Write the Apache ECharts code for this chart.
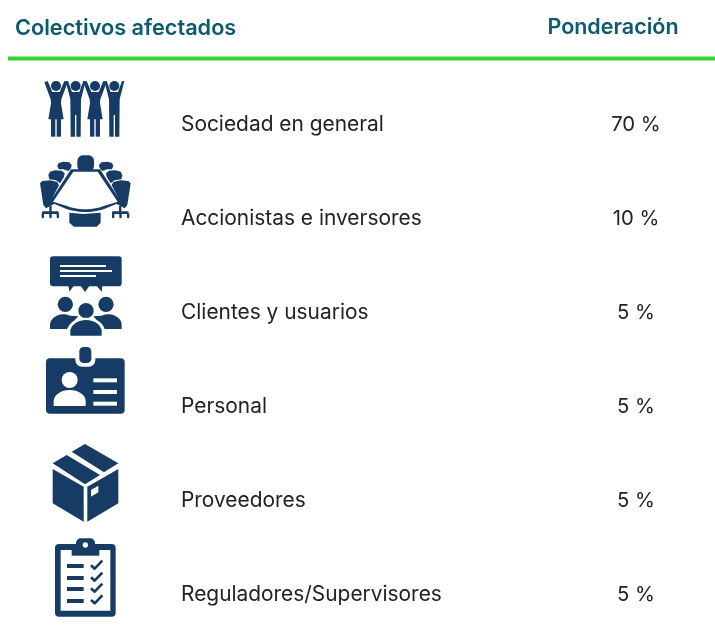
<!DOCTYPE html>
<html><head><meta charset="utf-8">
<style>html,body{margin:0;padding:0;background:#fff}#c{width:715px;height:630px}</style>
<script src="https://cdn.jsdelivr.net/npm/echarts@6/dist/echarts.min.js"></script>
</head><body><div id="c"></div>
<script>
const headers = ['Colectivos afectados', 'Ponderación'];
const categories = ['Sociedad en general','Accionistas e inversores','Clientes y usuarios','Personal','Proveedores','Reguladores/Supervisores'];
const weights = [70, 10, 5, 5, 5, 5];

const NAVY = '#163c66', WHITE = '#fff', FONT = 'Inter, "Noto Sans", sans-serif';
const P = (pts, fill = NAVY) => ({type:'polygon', shape:{points:pts}, style:{fill}});
const C = (cx, cy, r, fill = NAVY) => ({type:'circle', shape:{cx, cy, r}, style:{fill}});
const R = (x, y, width, height, r = 0, fill = NAVY) => ({type:'rect', shape:{x, y, width, height, r}, style:{fill}});
const PL = (pts, w, stroke = NAVY) => ({type:'polyline', shape:{points:pts}, style:{fill:null, stroke, lineWidth:w, lineJoin:'round'}});
const arc = (cx, cy, rx, ry, a0, a1, n = 14) => Array.from({length:n + 1}, (_, i) => {
  const a = (a0 + (a1 - a0) * i / n) * Math.PI / 180;
  return [cx + rx * Math.cos(a), cy + ry * Math.sin(a)];
});

function woman(c) { return [
  C(c, 258, 15),
  P([[c-35,247],[c-25,243],[c-11,276],[c+11,276],[c+25,243],[c+35,247],[c+16,298],[c+15,310],[c+23,358],[c-23,358],[c-15,310],[c-16,298]]),
  R(c-15, 355, 13, 55), R(c+2, 355, 13, 55)
];}
function man(c) { return [
  C(c, 258, 15),
  P([[c-30,243],[c-23,243],[c-11,276],[c+11,276],[c+23,243],[c+30,243],[c+16,298],[c+15,410],[c+2,410],[c+2,345],[c-2,345],[c-2,410],[c-15,410],[c-16,298]])
];}
const mirror = (pts) => pts.map(([x, y]) => [512 - x, y]);
const chairs = [
  [[172,497],[176,489],[190,485],[208,487],[215,495],[213,505],[205,513],[190,508],[176,508]],
  [[145,525],[150,515],[165,511],[185,512],[194,520],[192,530],[180,550],[168,541],[148,538]],
  [[120,550],[127,543],[150,541],[172,546],[177,556],[158,592],[162,612],[138,625],[130,615]]
];
const icons = [
  { dy:-124, dx:0, shapes:[...woman(168), ...man(227), ...woman(285), ...man(343)] },
  { dy:-218, dx:0, shapes:[
    ...chairs.map(p => P(p)), ...chairs.map(p => P(mirror(p))),
    R(232, 466, 50, 48, 16),
    P([[213,508],[300,508],[364,606],...arc(256,560,120,76,60,120),[149,606]]),
    P([[220,515],[293,515],[353,605],...arc(256,552,112,76,62,118),[159,605]], WHITE),
    P([[208,638],[250,642],[302,638],[302,668],[290,680],[222,680],[208,668]]),
    R(148,618,7,20), R(357,618,7,20),
    R(126,634,50,8,3), R(125,640,7,15,3), R(148,640,7,15,3), R(170,640,7,15,3),
    R(336,634,50,8,3), R(336,640,7,15,3), R(358,640,7,15,3), R(381,640,7,15,3)
  ]},
  { dy:-67, dx:30, shapes:[
    R(60,34,215,90,9),
    P([[115,120],[133,120],[118,140]]), P([[150,120],[180,120],[165,141]]), P([[198,120],[217,120],[215,140]]),
    R(90,60,138,6,0,WHITE), R(90,75,156,6,0,WHITE), R(90,90,108,6,0,WHITE),
    C(106,178,23), C(228,178,23),
    P([[60,252],[60,238],...arc(100,240,40,32,180,300),[145,214],[112,250],[112,252]]),
    P([[275,252],[275,238],...arc(235,240,40,32,360,240),[190,214],[222,250],[222,252]]),
    C(168,197,27,WHITE), C(168,197,23),
    P([[112,280],[112,250],...arc(168,258,56,40,190,350),[224,250],[224,280]], WHITE),
    P([[121,272],[121,250],...arc(168,260,47,35,190,350),[215,250],[215,272]])
  ]},
  { dy:-161, dx:30, shapes:[
    R(48,340,236,166,12),
    R(136,300,60,65,20,WHITE), R(148,306,36,48,13),
    C(119,405,24,WHITE),
    P([[71,483],[71,465],...arc(119,468,48,33,180,360),[167,483]], WHITE),
    R(190,400,71,12,0,WHITE), R(190,435,71,12,0,WHITE), R(190,470,71,12,0,WHITE)
  ]},
  { dy:-65, dx:30, shapes:[
    P([[68,102],[161,155],[161,260],[68,205]]),
    P([[172,155],[265,102],[265,205],[172,260]]),
    P([[68,85],[110,60],[210,120],[165,148]]),
    P([[125,50],[165,27],[265,85],[222,112]]),
    P([[183,165],[205,152],[205,172],[183,185]], WHITE)
  ]},
  { dy:-159, dx:30, shapes:[
    R(75,327,182,218,12), R(92,345,149,182,0,WHITE),
    R(138,310,57,40,14), R(125,338,83,24),
    C(166,330,8,WHITE),
    ...[387,423,456,492].map(y => R(111,y,50,12)),
    ...[0,36,69,104].map(o => PL([[183,o+391],[194,o+401],[217,o+377]],8))
  ]}
];

const chart = echarts.init(document.getElementById('c'), null, {renderer:'canvas'});
chart.setOption({
  animation:false,
  backgroundColor:'#fff',
  grid:{left:0, top:0, width:715, height:630},
  xAxis:{type:'value', min:0, max:715, show:false},
  // row 0 sits at y=124 and rows are 94 px apart
  yAxis:{type:'value', inverse:true, min:-124/94, max:506/94, show:false},
  graphic:[
    {type:'text', x:15, y:28, style:{text:headers[0], fill:'#0b5a70', font:'600 21.7px '+FONT, textVerticalAlign:'middle'}},
    {type:'text', x:613, y:28, style:{text:headers[1], fill:'#0b5a70', font:'600 21.5px '+FONT, textAlign:'center', textVerticalAlign:'middle'}},
    {type:'rect', shape:{x:8, y:56.5, width:707, height:4}, style:{fill:'#33d633'}}
  ],
  series:[{
    type:'custom', clip:false,
    data:categories.map((c, i) => [0, i]),
    encode:{x:0, y:1},
    renderItem(params, api) {
      const i = api.value(1), y = api.coord([0, i])[1], ic = icons[i];
      return {type:'group', children:[
        {type:'group', x:ic.dx, y:y + ic.dy, scaleX:1/3, scaleY:1/3, children:ic.shapes},
        {type:'text', x:181, y:y + 1, style:{text:categories[i], fill:'#222', font:'400 20.9px '+FONT, textVerticalAlign:'middle'}},
        {type:'text', x:636, y:y + 1, style:{text:weights[i] + ' %', fill:'#222', font:'400 20.3px '+FONT, textAlign:'center', textVerticalAlign:'middle'}}
      ]};
    }
  }]
});
</script></body></html>
